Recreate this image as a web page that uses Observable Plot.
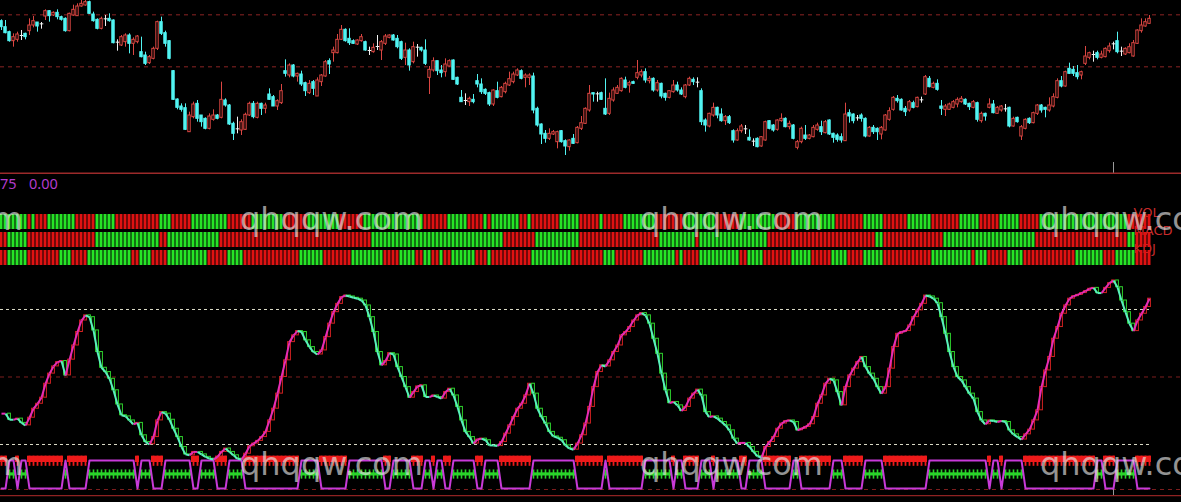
<!DOCTYPE html>
<html><head><meta charset="utf-8">
<script src="https://cdn.jsdelivr.net/npm/d3@7"></script>
<script src="https://cdn.jsdelivr.net/npm/@observablehq/plot@0.6"></script>
<style>
html,body{margin:0;padding:0;background:#000;}
#chart{position:relative;width:1181px;height:502px;background:#000;overflow:hidden;}
#chart svg{position:absolute;left:0;}
</style></head><body><div id="chart"></div>
<script>
// ---------- price candles (price in fen) ----------
const open=[538,520,505,478,482,495,500,508,525,534,530,552,568,555,563,550,545,508,555,553,582,585,595,558,542,515,545,545,540,475,465,475,495,470,475,445,435,412,425,455,535,502,478,388,303,282,277,205,250,290,255,245,215,242,255,248,300,285,230,215,210,212,255,290,248,290,275,318,310,282,292,388,375,405,372,378,352,322,355,312,355,372,418,442,442,482,512,485,478,468,478,475,450,445,462,450,470,488,495,485,475,428,450,415,460,458,450,368,390,418,390,385,402,420,368,308,300,295,302,358,348,332,322,288,328,310,325,345,355,375,388,368,368,372,275,228,200,185,198,175,208,178,160,185,172,215,230,270,322,320,322,275,260,300,320,328,360,345,355,368,375,385,358,365,330,350,320,308,325,345,330,310,345,362,355,328,240,222,255,278,258,238,250,208,180,208,215,188,178,185,162,180,238,225,212,238,245,220,225,158,175,195,185,190,212,220,202,240,200,195,190,178,262,258,248,255,245,192,218,215,198,210,242,272,305,302,275,270,292,280,302,318,365,338,350,282,272,272,278,288,295,302,290,278,292,238,260,278,288,260,270,275,278,222,248,192,215,245,232,260,285,278,270,282,308,358,342,395,392,382,375,410,428,438,442,428,430,448,470,478,448,438,442,432,470,508,522,530];
const close=[520,502,478,490,498,495,490,525,538,522,530,568,553,563,550,542,508,560,572,582,590,595,560,538,515,545,545,538,472,475,490,495,470,482,492,430,410,430,455,535,500,470,425,302,278,272,212,255,288,245,235,215,252,255,245,302,285,228,200,215,235,257,290,250,290,275,285,302,282,298,328,380,405,372,380,348,328,350,335,360,375,415,408,450,482,512,478,472,470,480,490,450,450,458,462,475,492,495,480,460,425,450,405,460,460,450,410,392,418,388,382,408,418,362,348,295,300,305,295,348,325,320,288,330,308,338,350,364,378,390,365,375,375,270,225,198,185,200,205,205,175,162,180,170,218,232,275,320,318,320,302,258,305,330,338,365,338,352,350,382,385,360,365,330,352,312,308,328,345,330,318,345,365,355,355,235,225,260,278,255,238,250,232,180,208,222,215,180,178,160,190,235,215,210,240,245,220,230,185,175,215,185,195,218,225,205,235,198,188,182,180,258,252,238,248,245,192,218,205,205,218,255,268,308,298,270,265,295,278,308,302,370,340,350,332,275,282,288,295,302,305,288,280,295,242,260,252,288,262,278,282,275,222,245,235,220,242,232,262,285,270,272,285,310,358,342,385,380,380,370,385,432,442,438,428,438,455,462,470,445,448,455,460,472,510,525,535,545];
const high=[542,540,508,500,505,510,502,545,552,534,534,572,570,566,572,553,548,562,586,590,600,600,598,565,545,550,555,560,542,482,495,500,500,488,495,490,445,435,460,538,550,508,480,390,305,290,290,265,295,300,255,248,260,272,258,355,305,288,235,250,242,262,295,297,295,292,292,335,315,302,348,422,410,408,382,388,355,360,360,368,378,420,425,460,498,525,515,515,482,482,498,478,460,470,495,480,498,497,498,495,478,472,455,475,468,460,482,402,428,418,405,425,422,422,370,330,320,310,318,378,365,335,325,332,355,342,355,385,385,395,392,380,380,382,280,230,210,215,210,208,210,182,182,198,222,252,278,345,322,325,325,365,322,338,345,368,370,358,358,420,392,395,372,368,360,352,322,330,360,355,338,348,370,368,368,335,245,262,292,280,275,255,255,212,215,228,225,212,185,188,192,238,240,228,242,260,248,238,228,180,220,225,198,225,232,238,240,242,202,200,200,292,272,260,255,260,248,222,225,218,222,258,278,312,315,305,282,300,298,310,310,375,372,355,362,300,288,292,300,308,312,305,292,300,295,265,262,305,300,282,285,288,280,250,250,225,245,248,265,288,288,280,308,320,365,372,388,412,402,405,388,462,445,448,448,448,458,472,475,505,460,458,470,480,512,545,545,555];
const low=[510,500,475,460,475,480,482,495,518,505,514,540,535,552,542,538,505,506,553,552,580,583,558,535,512,512,522,535,470,448,462,460,440,435,470,428,405,408,422,450,495,460,422,300,272,265,210,205,245,235,220,212,212,238,242,245,280,225,180,200,195,210,252,245,245,255,260,300,282,270,288,370,368,368,355,342,312,318,315,312,342,370,378,415,440,480,475,465,468,465,475,448,435,442,450,420,465,485,478,455,420,405,388,410,430,445,405,318,385,375,368,370,400,360,345,295,285,282,290,338,318,315,282,282,305,308,320,342,350,372,362,338,345,260,220,168,172,180,195,155,172,135,148,168,170,210,228,265,295,295,300,255,255,295,318,325,335,322,348,362,368,352,350,325,325,305,298,305,322,325,315,305,342,345,338,225,205,218,250,245,235,225,228,172,178,202,198,178,162,158,160,178,212,205,208,235,218,212,182,152,170,180,182,188,208,195,200,195,172,175,172,178,232,230,238,235,188,190,198,180,182,208,238,268,292,268,252,265,275,278,292,315,338,335,328,255,252,270,275,278,292,285,270,275,235,232,238,275,260,258,265,265,218,220,232,180,212,228,230,255,262,248,265,278,305,338,340,378,372,362,362,405,422,415,422,425,428,442,452,440,432,435,440,430,468,502,520,528];
const priceGrid=[557,401];
const priceSeparator=82;
const cursorBar=278;
const cursorTopPrice=114;

// ---------- signal strips ----------
const stripRows=["VOL","MACD","KDJ"];
const volRuns=[7,1,1,3,7,5,5,11,3,5,9,6,8,6,8,6,15,6,5,4,1,1,7,2,1,7,5,5,1,5,8,7,8,6,9,5,10,7,5,6,6,7,5,5,5,5,22,6];
const macdRuns=[2,5,17,16,2,13,38,33,8,11,20,9,1,17,27,2,15,23,23,2,4];
const kdjRuns=[2,5,8,3,4,11,2,3,4,10,5,4,14,6,7,8,4,4,2,2,2,1,2,6,3,1,10,10,8,3,7,8,1,1,4,10,2,4,7,5,5,4,4,5,12,10,1,3,5,4,13,7,3,5,4];

// ---------- oscillator (0-100) ----------
const osc=[33.7,33.7,31.0,31.0,31.5,29.6,28.5,31.9,35.9,38.1,
40.8,47.0,51.5,54.7,56.6,57.1,50.7,57.7,64.0,70.0,
75.1,77.4,76.6,70.7,61.1,54.1,52.2,49.2,44.1,37.8,
33.0,32.5,30.7,29.0,29.6,24.1,21.1,20.1,23.3,30.7,
34.4,33.7,31.0,27.0,23.3,18.9,15.6,15.2,16.7,16.7,
15.6,14.5,13.7,13.3,14.5,16.7,18.2,16.7,15.2,13.7,
13.3,15.9,19.2,20.4,21.6,23.3,25.6,30.7,35.9,42.6,
50.0,57.4,65.5,68.5,70.4,70.0,66.3,63.3,61.1,60.0,
61.8,67.7,73.7,78.8,82.5,85.5,86.2,85.8,85.2,84.8,
84.0,81.8,76.6,70.0,61.1,55.2,57.1,60.6,60.0,54.4,
50.0,45.5,40.8,43.3,45.8,46.3,41.1,41.1,41.8,41.1,
40.4,43.3,44.8,41.8,36.7,30.7,25.6,23.3,20.4,22.2,
22.6,21.9,19.6,19.6,19.3,21.1,24.8,28.5,32.2,35.9,
38.1,41.8,47.0,42.6,35.9,32.2,29.3,25.6,23.6,23.0,
21.9,19.6,18.2,17.7,20.4,24.1,29.3,36.7,45.5,52.2,
55.2,54.7,57.4,61.1,64.0,68.5,70.0,72.2,75.1,77.4,
78.4,77.4,73.7,67.0,60.3,51.5,44.1,38.4,38.9,37.4,
34.9,36.7,40.4,42.6,44.4,41.8,34.4,32.2,32.5,31.5,
30.0,28.5,26.3,22.6,20.4,20.7,20.7,18.9,16.7,14.8,
14.2,18.9,21.1,23.3,27.0,29.3,30.4,30.7,30.0,26.3,
27.0,27.8,29.0,32.2,38.1,41.8,47.0,49.2,48.5,43.3,
37.4,45.5,50.7,53.7,56.6,58.9,54.4,51.5,49.2,45.5,
42.6,45.5,53.7,63.3,69.2,70.0,70.4,72.9,76.6,79.6,
82.5,86.2,85.8,84.8,82.8,76.6,69.2,61.1,54.4,50.0,
48.5,45.5,42.6,40.4,34.4,30.7,29.0,30.7,30.4,30.0,
30.4,30.0,26.3,24.5,23.3,22.2,24.5,26.6,30.7,35.2,
45.5,52.9,58.9,67.0,72.2,78.1,81.8,84.8,85.9,86.5,
87.3,88.2,89.2,89.6,87.3,87.3,89.6,91.7,92.9,89.9,
84.0,78.8,73.7,70.4,75.1,78.1,81.1,84.8];
const oscBands=[80,20];
const oscMidLines=[50,0];
const oscFloor=-2.7;
const waveLevel={up:0.4,down:12.9};
const headerValues=["75","0.00"];
const watermarkText="qhqqw.com";

// ---------- derived tables ----------
const bars=open.map((o,i)=>({i,o,c:close[i],h:high[i],l:low[i],dir:close[i]>o?"up":close[i]<o?"down":"flat"}));
const candleStroke={up:"#dc4642",down:"#52f4f2",flat:"#f2f2f2"};
const candleFill={up:"#000000",down:"#52f4f2",flat:"#f2f2f2"};

function expand(runs,first){const out=[];let c=first;for(const n of runs){for(let k=0;k<n;k++)out.push(c);c=c==="R"?"G":"R";}return out;}
const stripCols={VOL:expand(volRuns,"G"),MACD:expand(macdRuns,"R"),KDJ:expand(kdjRuns,"R")};
const stripData=[];
for(const r of stripRows) stripCols[r].forEach((c,i)=>stripData.push({row:r,i,c}));

const dirs=[];
osc.forEach((v,i)=>{dirs.push(i===0?"up":v>osc[i-1]?"up":v<osc[i-1]?"down":dirs[i-1]);});
const segs=osc.slice(1).map((v,k)=>({i:k+1,p:osc[k],v,dir:dirs[k+1]}));
const states=osc.map((v,i)=>({i,dir:dirs[i],w:waveLevel[dirs[i]]}));
const upStates=states.filter(d=>d.dir==="up"), downStates=states.filter(d=>d.dir==="down");

const X={domain:[-0.25,295],range:[0,1181],axis:null};
const baseStyle={background:"transparent",overflow:"visible",fontFamily:"DejaVu Sans, sans-serif"};
const root=document.getElementById("chart");

// ---------- candle panel ----------
const pCandle=Plot.plot({
  width:1181,height:175,margin:0,style:baseStyle,x:X,
  y:{domain:[75,600],axis:null},color:{type:"identity"},
  marks:[
    Plot.ruleY(priceGrid,{stroke:"#8c2424",strokeDasharray:"4,4",strokeWidth:1}),
    Plot.ruleY([priceSeparator],{stroke:"#9c2a2a",strokeWidth:1.5}),
    Plot.ruleX([cursorBar],{y1:cursorTopPrice,y2:priceSeparator,stroke:"#9a9a9a",strokeWidth:1}),
    Plot.ruleX(bars,{x:"i",y1:"l",y2:"h",stroke:d=>candleStroke[d.dir],strokeWidth:1}),
    Plot.rect(bars.filter(d=>d.dir!=="flat"),{x1:d=>d.i-0.3,x2:d=>d.i+0.3,y1:"o",y2:"c",fill:d=>candleFill[d.dir],stroke:d=>candleStroke[d.dir],strokeWidth:1}),
    Plot.link(bars.filter(d=>d.dir==="flat"),{x1:d=>d.i-0.45,x2:d=>d.i+0.45,y1:"o",y2:"o",stroke:candleStroke.flat,strokeWidth:1})
  ]
});
pCandle.style.top="0px";
root.appendChild(pCandle);

// ---------- strips panel ----------
const pStrip=Plot.plot({
  width:1181,height:75,margin:0,style:baseStyle,x:X,
  y:{type:"band",domain:stripRows,range:[18.5,70.5],paddingInner:0.16,paddingOuter:0,axis:null},
  color:{type:"identity"},
  marks:[
    Plot.text(stripRows,{y:d=>d,text:d=>d,frameAnchor:"right",textAnchor:"start",dx:-48,dy:-9,fill:"#c82c2c",fontSize:13}),
    Plot.barX(stripData,{x1:d=>d.i-0.375,x2:d=>d.i+0.375,y:"row",fill:d=>d.c==="R"?"#e01212":"#26e426"})
  ]
});
pStrip.style.top="195px";
root.appendChild(pStrip);

// ---------- oscillator panel ----------
const lastBar=osc.length-1;
const pOsc=Plot.plot({
  width:1181,height:232,margin:0,style:baseStyle,x:X,
  y:{domain:[-5.78,97.33],axis:null},color:{type:"identity"},
  marks:[
    Plot.ruleY(oscBands,{x1:-0.25,x2:lastBar,stroke:"#dcdcc8",strokeDasharray:"3,3",strokeWidth:1}),
    Plot.ruleY(oscMidLines,{stroke:"#7e1e1e",strokeDasharray:"4,4",strokeWidth:1}),
    Plot.ruleY([oscFloor],{stroke:"#8e2222",strokeWidth:1.2}),
    Plot.ruleX([cursorBar],{y1:0,y2:oscFloor,stroke:"#9a9a9a",strokeWidth:1}),
    // red comb (rising state)
    Plot.rect(upStates,{x1:d=>d.i-0.5,x2:d=>d.i+0.5,y1:12.0,y2:14.8,fill:"#ee1a1a"}),
    Plot.ruleX(upStates,{x:"i",y1:10.3,y2:14.8,stroke:"#ee1a1a",strokeWidth:1.8}),
    // green comb (falling state)
    Plot.rect(downStates,{x1:d=>d.i-0.5,x2:d=>d.i+0.5,y1:6.0,y2:7.4,fill:"#2ad42a"}),
    Plot.ruleX(downStates,{x:"i",y1:4.6,y2:8.7,stroke:"#2ad42a",strokeWidth:1.6}),
    // state wave
    Plot.line(states,{x:"i",y:"w",stroke:"#c83ad8",strokeWidth:2,curve:"linear"}),
    // step boxes
    Plot.rect(segs,{x1:d=>d.i-0.35,x2:d=>d.i+0.35,y1:"p",y2:"v",fill:"none",stroke:d=>d.dir==="up"?"#d42222":"#2ed42e",strokeWidth:1}),
    // oscillator line
    Plot.link(segs,{x1:d=>d.i-1,y1:"p",x2:"i",y2:"v",stroke:d=>d.dir==="up"?"#e62cb6":"#58f0bc",strokeWidth:2})
  ]
});
pOsc.style.top="270px";
root.appendChild(pOsc);

// ---------- text overlay ----------
const ov=d3.select(root).append("svg").attr("width",1181).attr("height",502).style("top","0px").style("pointer-events","none");
ov.append("text").attr("x",0).attr("y",189).attr("font-family","Noto Sans, sans-serif").attr("font-size",14.5).attr("fill","#b43ccc").text(headerValues[0]);
ov.append("text").attr("x",29).attr("y",189).attr("font-family","Noto Sans, sans-serif").attr("font-size",14.5).attr("fill","#b43ccc").text(headerValues[1]);
for(const by of [230,475]) for(const bx of [-160,240,640,1040]){
  ov.append("text").attr("x",bx).attr("y",by).attr("font-family","DejaVu Sans, sans-serif").attr("font-size",32).attr("fill","rgba(225,225,225,0.66)").text(watermarkText);
}
</script></body></html>
